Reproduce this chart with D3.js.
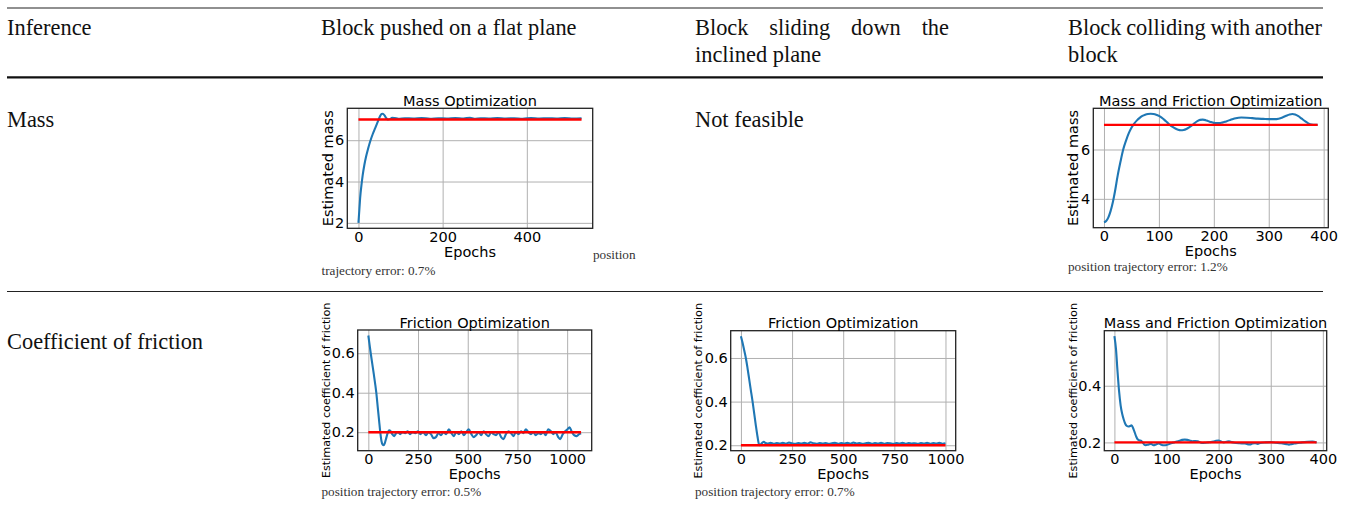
<!DOCTYPE html>
<html>
<head>
<meta charset="utf-8">
<script src="https://cdn.jsdelivr.net/npm/d3@7"></script>
<style>
body { margin: 0; background: #fff; }
svg { display: block; }
.serif { font-family: "Liberation Serif", "Times New Roman", serif; fill: #111; }
.caption { font-family: "Liberation Serif", "Times New Roman", serif; fill: #333; font-size: 13.2px; }
.plot text { font-family: "DejaVu Sans", sans-serif; fill: #000; font-size: 14.5px; }
</style>
</head>
<body>
<svg width="1351" height="509"></svg>
<script>
const width = 1351
const height = 509

// Table text
const headLines = [
    ["Inference"],
    ["Block pushed on a flat plane"],
    ["Block sliding down the", "inclined plane"],
    ["Block colliding with another", "block"]
]
const rowHeads = ["Mass", "Coefficient of friction"]
const notFeasible = "Not feasible"

// True values (red lines)
const trueMass = 7
const trueFriction = 0.2

// Series: [epoch, estimate]
const massFlat = [[0,2.0],[2,2.6],[4,3.2],[7,3.8],[10,4.3],[14,4.8],[18,5.2],[23,5.6],[28,5.95],[34,6.3],[40,6.6],
    [46,6.9],[51,7.15],[55,7.27],[58,7.28],[62,7.2],[66,7.07],[70,7.0],[75,7.02],[80,7.08],[86,7.07],[95,7.04],
    [110,7.06],[130,7.05],[150,7.07],[170,7.04],[190,7.06],[210,7.05],[230,7.07],[250,7.05],[265,7.09],[275,7.04],
    [290,7.06],[310,7.05],[330,7.07],[350,7.05],[370,7.06],[390,7.04],[410,7.07],[430,7.05],[450,7.06],[470,7.05],
    [490,7.07],[510,7.05],[530,7.06]]

const massBoth = [[0,3.05],[4,3.1],[8,3.25],[12,3.5],[16,3.85],[20,4.3],[25,4.95],[30,5.5],[35,6.0],[40,6.35],
    [45,6.65],[50,6.88],[55,7.05],[60,7.18],[65,7.28],[70,7.36],[75,7.41],[80,7.44],[85,7.45],[90,7.44],[95,7.41],
    [100,7.36],[105,7.29],[110,7.2],[115,7.1],[120,7.0],[125,6.92],[130,6.85],[135,6.8],[140,6.78],[145,6.79],
    [150,6.83],[155,6.9],[160,6.98],[165,7.07],[170,7.15],[175,7.2],[180,7.21],[185,7.19],[190,7.15],[195,7.11],
    [200,7.08],[205,7.07],[210,7.07],[215,7.09],[220,7.12],[225,7.16],[230,7.2],[235,7.24],[240,7.27],[245,7.29],
    [250,7.3],[260,7.29],[270,7.27],[280,7.25],[290,7.24],[300,7.23],[310,7.23],[318,7.25],[325,7.3],[332,7.37],
    [338,7.42],[343,7.44],[348,7.42],[354,7.35],[360,7.25],[366,7.15],[372,7.06],[378,7.01],[384,7.0],[389,7.0]]

const frictionFlat = [[0,0.69],[6,0.645],[12,0.6],[20,0.545],[28,0.49],[35,0.44],[40,0.4],[47,0.33],[54,0.26],
    [60,0.2],[66,0.155],[72,0.137],[77,0.134],[83,0.145],[90,0.17],[97,0.195],[104,0.21],[112,0.205],[120,0.19],
    [130,0.18],[140,0.195],[150,0.2],[160,0.19],[172,0.2],[185,0.195],[198,0.205],[210,0.19],[222,0.2],[236,0.195],
    [250,0.205],[262,0.19],[275,0.2],[290,0.185],[302,0.2],[315,0.19],[328,0.17],[340,0.175],[352,0.195],[365,0.185],
    [378,0.2],[392,0.19],[405,0.215],[418,0.195],[430,0.18],[442,0.2],[455,0.19],[468,0.205],[480,0.185],[492,0.2],
    [505,0.215],[518,0.19],[530,0.175],[542,0.185],[555,0.2],[568,0.185],[580,0.205],[592,0.19],[605,0.18],[618,0.2],
    [630,0.19],[642,0.185],[655,0.2],[668,0.175],[680,0.165],[692,0.19],[705,0.205],[718,0.195],[730,0.18],[742,0.2],
    [755,0.19],[768,0.205],[780,0.195],[792,0.215],[805,0.2],[818,0.19],[830,0.2],[842,0.185],[855,0.195],[868,0.19],
    [880,0.2],[892,0.185],[905,0.215],[918,0.205],[930,0.19],[942,0.2],[955,0.175],[965,0.165],[978,0.19],[990,0.205],
    [1002,0.215],[1012,0.225],[1022,0.205],[1035,0.185],[1048,0.18],[1060,0.19],[1070,0.195]]

const frictionIncline = [[0,0.7],[8,0.67],[16,0.635],[24,0.6],[32,0.555],[40,0.505],[48,0.455],[57,0.4],[65,0.345],
    [73,0.29],[81,0.24],[88,0.205],[92,0.2],[98,0.205],[105,0.212],[112,0.216],[120,0.21],[130,0.208],[145,0.211],
    [160,0.207],[175,0.21],[190,0.208],[205,0.211],[220,0.207],[235,0.212],[250,0.209],[265,0.207],[280,0.21],
    [295,0.208],[310,0.211],[325,0.207],[340,0.213],[355,0.209],[370,0.207],[385,0.21],[400,0.208],[415,0.21],
    [430,0.207],[445,0.209],[460,0.211],[475,0.207],[490,0.21],[505,0.208],[520,0.211],[535,0.207],[550,0.212],
    [565,0.208],[580,0.21],[595,0.207],[610,0.209],[625,0.211],[640,0.207],[655,0.21],[670,0.208],[685,0.211],
    [700,0.207],[715,0.21],[730,0.209],[745,0.207],[760,0.21],[775,0.208],[790,0.211],[805,0.207],[820,0.21],
    [835,0.208],[850,0.209],[865,0.207],[880,0.21],[895,0.208],[910,0.211],[925,0.207],[940,0.21],[955,0.208],
    [970,0.211],[985,0.207],[1000,0.209]]

const frictionBoth = [[0,0.575],[3,0.53],[6,0.45],[9,0.38],[12,0.33],[15,0.3],[18,0.28],[21,0.265],[24,0.258],
    [27,0.256],[30,0.258],[33,0.26],[36,0.25],[39,0.235],[42,0.22],[45,0.21],[48,0.207],[51,0.206],[54,0.2],
    [57,0.193],[60,0.19],[65,0.192],[70,0.195],[75,0.19],[80,0.193],[85,0.196],[90,0.192],[95,0.19],[100,0.191],
    [105,0.194],[110,0.198],[115,0.2],[120,0.203],[125,0.206],[130,0.209],[135,0.21],[140,0.209],[145,0.206],
    [150,0.204],[155,0.205],[160,0.204],[165,0.2],[170,0.198],[175,0.199],[180,0.2],[185,0.201],[190,0.203],
    [195,0.206],[200,0.207],[205,0.203],[210,0.2],[215,0.202],[220,0.204],[225,0.201],[230,0.199],[240,0.197],
    [250,0.196],[255,0.194],[260,0.193],[265,0.196],[270,0.197],[275,0.195],[280,0.198],[290,0.2],[300,0.201],
    [310,0.199],[320,0.197],[330,0.194],[335,0.192],[340,0.194],[345,0.196],[350,0.197],[360,0.2],[370,0.202],
    [380,0.203],[388,0.2]]

// Tick values
const ticksMassFlatX = [0, 200, 400]
const ticksMassFlatY = [2, 4, 6]
const ticksMassBothX = [0, 100, 200, 300, 400]
const ticksMassBothY = [4, 6]
const ticksFrictionX = [0, 250, 500, 750, 1000]
const ticksFrictionY = [0.2, 0.4, 0.6]
const ticksFrictionBothX = [0, 100, 200, 300, 400]
const ticksFrictionBothY = [0.2, 0.4]

let svg = d3.select("svg")
svg.append("rect").attr("width", width).attr("height", height).attr("fill", "#fff")

// Table rules
const cols = [7, 321, 695, 1068]
const colWidth = 254
svg.append("line").attr("x1", 7).attr("x2", 1323).attr("y1", 8).attr("y2", 8)
    .attr("stroke", "#222").attr("stroke-width", 1.2)
svg.append("line").attr("x1", 7).attr("x2", 1323).attr("y1", 77.3).attr("y2", 77.3)
    .attr("stroke", "#111").attr("stroke-width", 2.2)
svg.append("line").attr("x1", 7).attr("x2", 1323).attr("y1", 291.5).attr("y2", 291.5)
    .attr("stroke", "#222").attr("stroke-width", 1.2)

// Justify one line of words across a width
function justify(text, x0, w, y) {
    const words = text.split(" ")
    const nodes = words.map(t => svg.append("text").attr("class", "serif")
        .attr("font-size", "22.4px").attr("y", y).text(t))
    const widths = nodes.map(n => n.node().getComputedTextLength())
    const gap = (w - d3.sum(widths)) / (words.length - 1)
    let x = x0
    nodes.forEach((n, i) => { n.attr("x", x); x += widths[i] + gap })
}

// Header
headLines.forEach((lines, c) => {
    lines.forEach((line, i) => {
        const y = 35 + i * 27.3
        if (i < lines.length - 1) {
            justify(line, cols[c], colWidth, y)
        } else {
            svg.append("text").attr("class", "serif").attr("font-size", "22.4px")
                .attr("x", cols[c]).attr("y", y).text(line)
        }
    })
})

// Row labels
svg.append("text").attr("class", "serif").attr("font-size", "22.4px")
    .attr("x", cols[0]).attr("y", 126.6).text(rowHeads[0])
svg.append("text").attr("class", "serif").attr("font-size", "22.4px")
    .attr("x", cols[2]).attr("y", 126.6).text(notFeasible)
svg.append("text").attr("class", "serif").attr("font-size", "22.4px")
    .attr("x", cols[0]).attr("y", 348.5).text(rowHeads[1])

// Captions
const captions = [
    {text: "position", x: 593, y: 259},
    {text: "trajectory error: 0.7%", x: 321.5, y: 274.5},
    {text: "position trajectory error: 1.2%", x: 1068, y: 271},
    {text: "position trajectory error: 0.5%", x: 321.5, y: 496},
    {text: "position trajectory error: 0.7%", x: 695, y: 496}
]
svg.selectAll(".caption").data(captions).enter().append("text")
    .attr("class", "caption").attr("x", d => d.x).attr("y", d => d.y).text(d => d.text)

// One matplotlib-like panel
function drawPanel(p) {
    const g = svg.append("g").attr("class", "plot")
    const box = p.box
    const xExt = d3.extent(p.data, d => d[0])
    const yExt = d3.extent(p.data.map(d => d[1]).concat([p.truth]))
    const xPad = (xExt[1] - xExt[0]) * 0.05
    const yPad = (yExt[1] - yExt[0]) * 0.05
    const x = d3.scaleLinear().domain([xExt[0] - xPad, xExt[1] + xPad]).range([box.l, box.r])
    const y = d3.scaleLinear().domain([yExt[0] - yPad, yExt[1] + yPad]).range([box.b, box.t])

    // grid
    g.append("g").attr("transform", `translate(0,${box.b})`)
        .call(d3.axisBottom(x).tickValues(p.xTicks).tickSize(-(box.b - box.t)).tickFormat(""))
        .call(s => s.select(".domain").remove())
        .selectAll("line").attr("stroke", "#b0b0b0").attr("stroke-width", 1)
    g.append("g").attr("transform", `translate(${box.l},0)`)
        .call(d3.axisLeft(y).tickValues(p.yTicks).tickSize(-(box.r - box.l)).tickFormat(""))
        .call(s => s.select(".domain").remove())
        .selectAll("line").attr("stroke", "#b0b0b0").attr("stroke-width", 1)

    // estimate line
    const line = d3.line().x(d => x(d[0])).y(d => y(d[1])).curve(d3.curveMonotoneX)
    g.append("path").datum(p.data).attr("d", line)
        .attr("fill", "none").attr("stroke", "#1f77b4").attr("stroke-width", 2.1)
    // true value
    g.append("path").datum(xExt.map(e => [e, p.truth])).attr("d", d3.line().x(d => x(d[0])).y(d => y(d[1])))
        .attr("fill", "none").attr("stroke", "#ff0000").attr("stroke-width", 2.4)

    // frame
    g.append("rect").attr("x", box.l).attr("y", box.t)
        .attr("width", box.r - box.l).attr("height", box.b - box.t)
        .attr("fill", "none").attr("stroke", "#222").attr("stroke-width", 1.3)

    // tick labels
    g.append("g").attr("transform", `translate(0,${box.b})`)
        .call(d3.axisBottom(x).tickValues(p.xTicks).tickSize(0).tickPadding(3.5).tickFormat(d3.format("d")))
        .call(s => s.select(".domain").remove())
    g.append("g").attr("transform", `translate(${box.l},0)`)
        .call(d3.axisLeft(y).tickValues(p.yTicks).tickSize(0).tickPadding(3).tickFormat(d3.format(p.yFmt)))
        .call(s => s.select(".domain").remove())

    // titles
    const cx = (box.l + box.r) / 2
    g.append("text").attr("x", cx).attr("y", box.t - 2.5).attr("text-anchor", "middle").text(p.title)
    g.append("text").attr("x", cx).attr("y", box.b + 28.3).attr("text-anchor", "middle").text("Epochs")
    g.append("text")
        .attr("transform", `translate(${box.l + p.ylabelDx},${(box.t + box.b) / 2}) rotate(-90)`)
        .attr("text-anchor", "middle").attr("dy", "0.35em")
        .style("font-size", p.ylabelSize + "px")
        .text(p.ylabel)
}

const panels = [
    {data: massFlat, truth: trueMass, box: {l: 347.3, r: 592.7, t: 108.3, b: 228.3},
     xTicks: ticksMassFlatX, yTicks: ticksMassFlatY, yFmt: "d",
     title: "Mass Optimization", ylabel: "Estimated mass", ylabelSize: 14.5, ylabelDx: -19},
    {data: massBoth, truth: trueMass, box: {l: 1093.3, r: 1328.3, t: 108.3, b: 227.7},
     xTicks: ticksMassBothX, yTicks: ticksMassBothY, yFmt: "d",
     title: "Mass and Friction Optimization", ylabel: "Estimated mass", ylabelSize: 14.5, ylabelDx: -20},
    {data: frictionFlat, truth: trueFriction, box: {l: 357.7, r: 591.7, t: 330, b: 450.7},
     xTicks: ticksFrictionX, yTicks: ticksFrictionY, yFmt: ".1f",
     title: "Friction Optimization", ylabel: "Estimated coefficient of friction", ylabelSize: 11.2, ylabelDx: -31.2},
    {data: frictionIncline, truth: trueFriction, box: {l: 730.7, r: 955.7, t: 330.7, b: 450.7},
     xTicks: ticksFrictionX, yTicks: ticksFrictionY, yFmt: ".1f",
     title: "Friction Optimization", ylabel: "Estimated coefficient of friction", ylabelSize: 11.2, ylabelDx: -33},
    {data: frictionBoth, truth: trueFriction, box: {l: 1104.3, r: 1326.7, t: 330.7, b: 450.7},
     xTicks: ticksFrictionBothX, yTicks: ticksFrictionBothY, yFmt: ".1f",
     title: "Mass and Friction Optimization", ylabel: "Estimated coefficient of friction", ylabelSize: 11.2, ylabelDx: -31.6}
]
panels.forEach(drawPanel)
</script>
</body>
</html>
